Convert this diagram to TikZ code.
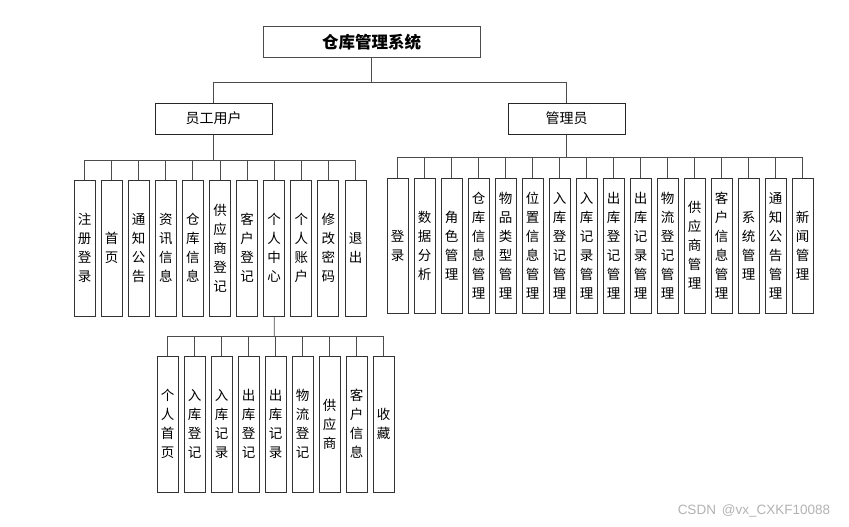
\documentclass[tikz,border=0pt]{standalone}
\usepackage{fontspec}
\setmainfont{Noto Sans CJK SC}
\newfontfamily\wmfont{Liberation Sans}

\newcommand*{\ubusy}{160}
\newcommand*{\abusy}{157}
\newcommand*{\pbusy}{336}

\begin{document}
\begin{tikzpicture}
[
	x=1pt, y=-1pt,
	conn/.style={draw=black!70,line width=0.9pt},
	titlebox/.style={draw=black!70,line width=1pt,minimum width=217,minimum height=31,inner sep=0pt,font=\fontsize{16.5}{20}\selectfont\bfseries},
	rolebox/.style={draw=black!85,line width=1pt,minimum width=117,minimum height=31,inner sep=0pt,font=\fontsize{14}{17}\selectfont},
	itembox/.style={draw=black!80,line width=1pt,minimum width=21,minimum height=136,inner sep=0pt,align=center,font=\fontsize{13.5}{19}\selectfont},
	wmtext/.style={text=black!30,font=\wmfont\fontsize{13.5}{15}\selectfont}
]

	\useasboundingbox (0,0) rectangle (849,527);

	% top
	\node[titlebox] (sys) at (371.5,42.5) {仓库管理系统};
	\node[rolebox] (user) at (213.5,118.5) {员工用户};
	\node[rolebox] (admin) at (566.5,118.5) {管理员};
	\coordinate (topbus) at (371.5,82);
	\draw[conn] (sys.south) -- (topbus);
	\draw[conn] (user.north) |- (topbus);
	\draw[conn] (admin.north) |- (topbus);

	% staff
	\coordinate (ubus) at (213.5,\ubusy);
	\draw[conn] (user.south) -- (ubus);
	\foreach \t [count=\i] in {注\\册\\登\\录, 首\\页, 通\\知\\公\\告, 资\\讯\\信\\息, 仓\\库\\信\\息, 供\\应\\商\\登\\记, 客\\户\\登\\记, 个\\人\\中\\心, 个\\人\\账\\户, 修\\改\\密\\码, 退\\出}
	{
		\node[itembox] (u\i) at ({84.5+27.1*(\i-1)},248) {\t};
		\draw[conn] (u\i.north) |- (ubus);
	}

	% admin
	\coordinate (abus) at (566.5,\abusy);
	\draw[conn] (admin.south) -- (abus);
	\foreach \t [count=\i] in {登\\录, 数\\据\\分\\析, 角\\色\\管\\理, 仓\\库\\信\\息\\管\\理, 物\\品\\类\\型\\管\\理, 位\\置\\信\\息\\管\\理, 入\\库\\登\\记\\管\\理, 入\\库\\记\\录\\管\\理, 出\\库\\登\\记\\管\\理, 出\\库\\记\\录\\管\\理, 物\\流\\登\\记\\管\\理, 供\\应\\商\\管\\理, 客\\户\\信\\息\\管\\理, 系\\统\\管\\理, 通\\知\\公\\告\\管\\理, 新\\闻\\管\\理}
	{
		\node[itembox,minimum height=135] (a\i) at ({397.5+27*(\i-1)},245.5) {\t};
		\draw[conn] (a\i.north) |- (abus);
	}

	% personal centre
	\coordinate (pbus) at (274.2,\pbusy);
	\draw[conn] (u8.south) -- (pbus);
	\foreach \t [count=\i] in {个\\人\\首\\页, 入\\库\\登\\记, 入\\库\\记\\录, 出\\库\\登\\记, 出\\库\\记\\录, 物\\流\\登\\记, 供\\应\\商, 客\\户\\信\\息, 收\\藏}
	{
		\node[itembox] (p\i) at ({167.5+27*(\i-1)},424) {\t};
		\draw[conn] (p\i.north) |- (pbus);
	}

	\node[wmtext] (wm) at (754,511) {CSDN \,@vx\_CXKF10088};

\end{tikzpicture}
\end{document}
